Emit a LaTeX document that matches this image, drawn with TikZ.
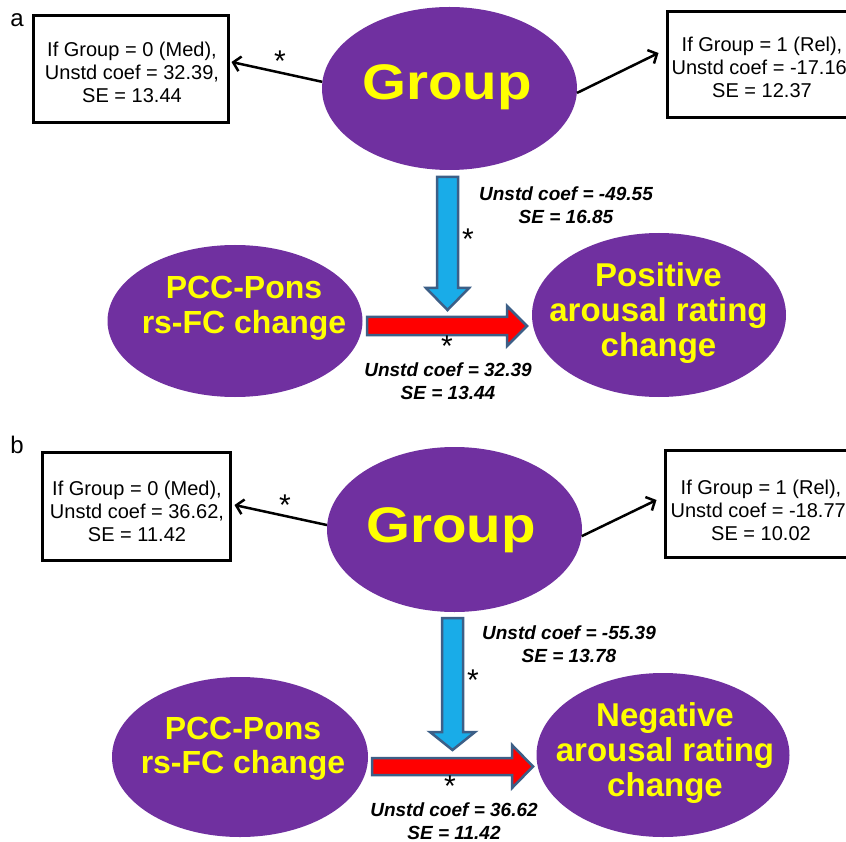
\documentclass[tikz,border=0pt]{standalone}
\usepackage{fontspec}
\setmainfont{Liberation Sans}
\usetikzlibrary{shapes.geometric,arrows.meta,calc}
\definecolor{grp}{RGB}{112,48,160}
\definecolor{ylw}{RGB}{255,255,0}
\definecolor{bluefill}{RGB}{25,172,232}
\definecolor{arrowedge}{RGB}{60,95,135}
\definecolor{redfill}{RGB}{255,0,0}
\begin{document}
\begin{tikzpicture}[x=1pt,y=-1pt,
 oval/.style={ellipse, fill=grp, inner sep=0pt, draw=none},
 ovaltext/.style={text=ylw, align=center, inner sep=0pt, font=\bfseries\fontsize{33}{35}\selectfont},
 grouptext/.style={text=ylw, inner sep=0pt, anchor=base, font=\bfseries\fontsize{50}{50}\selectfont},
 infobox/.style={draw=black, line width=3pt, inner sep=0pt, fill=white},
 infotext/.style={align=center, inner sep=0pt, font=\fontsize{20}{23}\selectfont},
 coef/.style={align=center, inner sep=0pt, font=\bfseries\itshape\fontsize{19}{23}\selectfont},
 sig/.style={inner sep=0pt, anchor=base, font=\fontsize{30}{30}\selectfont},
 thinarrow/.style={line width=2.5pt, -{Straight Barb[length=7pt,width=15pt]}},
 blockarrow/.style={draw=arrowedge, line width=2.5pt, line join=miter},
 panel/.style={inner sep=0pt, font=\fontsize{24}{24}\selectfont}]

\useasboundingbox (0,0) rectangle (846,842);
\clip (0,0) rectangle (846,842);
\fill[white] (0,0) rectangle (846,842);

% ---------------- panel a ----------------
\node[panel] (la) at (17,20) {a};

\node[oval, minimum width=255pt, minimum height=163pt] (ga) at (449.5,88.5) {};
\node[grouptext] (gat) at (447,100) {\scalebox{1.13}[1]{Group}};

\node[oval, minimum width=255pt, minimum height=152pt] (pa) at (235,321) {};
\node[ovaltext, font=\bfseries\fontsize{32}{35}\selectfont] (pat) at (244,308) {PCC-Pons\\rs-FC change};

\node[oval, minimum width=254pt, minimum height=164pt] (qa) at (659,315) {};
\node[ovaltext] (qat) at (658.5,313) {Positive\\arousal rating\\change};

\node[infobox, minimum width=195pt, minimum height=107pt] (bla) at (130.5,69.5) {};
\node[infotext] (tla) at (132,72) {If Group = 0 (Med),\\Unstd coef = 32.39,\\SE = 13.44};

\node[infobox, minimum width=184pt, minimum height=106pt] (bra) at (759,65) {};
\node[infotext] (tra) at (762,67) {If Group = 1 (Rel),\\Unstd coef = -17.16,\\SE = 12.37};

\draw[thinarrow] (ga.177) -- ($(bla.east)+(2,-7.5)$);
\draw[thinarrow] (ga.358) -- ($(bra.west)+(-7,-12)$);
\node[sig] (sa1) at (280,72) {*};

% block arrows
\draw[blockarrow, fill=bluefill] (437,177) -- (458,177) -- (458,288) -- (469,288) -- (447.5,310) -- (426,288) -- (437,288) -- cycle;
\draw[blockarrow, fill=redfill] (367,317) -- (507,317) -- (507,306) -- (527,326) -- (507,346) -- (507,335) -- (367,335) -- cycle;

\node[coef] (ca1) at (566,205.5) {Unstd coef = -49.55\\SE = 16.85};
\node[sig] (sa2) at (468,250) {*};
\node[sig] (sa3) at (447,356) {*};
\node[coef] (ca2) at (448,381) {Unstd coef = 32.39\\SE = 13.44};

% ---------------- panel b ----------------
\node[panel] (lb) at (17,445) {b};

\node[oval, minimum width=255pt, minimum height=165pt] (gb) at (454.5,529.5) {};
\node[grouptext] (gbt) at (451,542) {\scalebox{1.13}[1]{Group}};

\node[oval, minimum width=256pt, minimum height=160pt] (pb) at (240,757) {};
\node[ovaltext, font=\bfseries\fontsize{32}{34}\selectfont] (pbt) at (243,749) {PCC-Pons\\rs-FC change};

\node[oval, minimum width=253pt, minimum height=164pt] (qb) at (663,755) {};
\node[ovaltext] (qbt) at (665,753) {Negative\\arousal rating\\change};

\node[infobox, minimum width=188pt, minimum height=108pt] (blb) at (136,506) {};
\node[infotext] (tlb) at (137,511) {If Group = 0 (Med),\\Unstd coef = 36.62,\\SE = 11.42};

\node[infobox, minimum width=190pt, minimum height=107pt] (brb) at (760,503.5) {};
\node[infotext] (trb) at (761,510) {If Group = 1 (Rel),\\Unstd coef = -18.77,\\SE = 10.02};

\draw[thinarrow] (gb.178) -- ($(blb.east)+(3,-1)$);
\draw[thinarrow] (gb.357) -- ($(brb.west)+(-7,-3.5)$);
\node[sig] (sb1) at (285,515) {*};

\draw[blockarrow, fill=bluefill] (442,618) -- (463,618) -- (463,732) -- (475,732) -- (452.5,750) -- (430,732) -- (442,732) -- cycle;
\draw[blockarrow, fill=redfill] (372,758) -- (512,758) -- (512,745) -- (533,766.5) -- (512,788) -- (512,775) -- (372,775) -- cycle;

\node[coef] (cb1) at (569,644) {Unstd coef = -55.39\\SE = 13.78};
\node[sig] (sb2) at (473,690) {*};
\node[sig] (sb3) at (450,796) {*};
\node[coef] (cb2) at (454,821) {Unstd coef = 36.62\\SE = 11.42};
\end{tikzpicture}
\end{document}
